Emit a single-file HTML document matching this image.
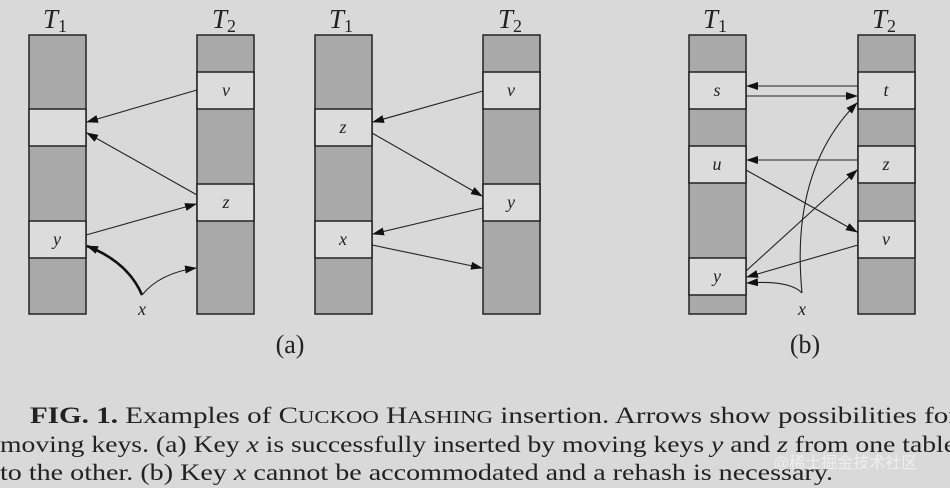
<!DOCTYPE html>
<html><head><meta charset="utf-8"><style>
html,body{margin:0;padding:0;background:#d9d9d9;}
svg{display:block}
.d{fill:#a9a9a9;stroke:#222;stroke-width:1.5}
.l{fill:#dcdcdc;stroke:#222;stroke-width:1.5}
.t{font-family:"Liberation Serif",serif;font-style:italic;fill:#222}
.a{stroke:#222;stroke-width:1.1;fill:none;marker-end:url(#ah)}
.cap{font-family:"Liberation Serif",serif;font-size:23px;fill:#222}
</style></head><body>
<svg width="950" height="488" viewBox="0 0 950 488" xmlns="http://www.w3.org/2000/svg">
<defs><marker id="ah" markerWidth="12" markerHeight="8" refX="11" refY="4" orient="auto" markerUnits="userSpaceOnUse"><path d="M0,0 L12,4 L0,8 Z" fill="#111"/></marker></defs>
<rect width="950" height="488" fill="#d9d9d9"/>
<g>
<rect class="d" x="29" y="35" width="57" height="279"/>
<rect class="l" x="29" y="109" width="57" height="37"/>
<rect class="l" x="29" y="221" width="57" height="37"/>
<rect class="d" x="197" y="35" width="57" height="279"/>
<rect class="l" x="197" y="72" width="57" height="37"/>
<rect class="l" x="197" y="184" width="57" height="37"/>
</g>
<g>
<rect class="d" x="315" y="35" width="57" height="279"/>
<rect class="l" x="315" y="109" width="57" height="37"/>
<rect class="l" x="315" y="221" width="57" height="37"/>
<rect class="d" x="483" y="35" width="57" height="279"/>
<rect class="l" x="483" y="72" width="57" height="37"/>
<rect class="l" x="483" y="184" width="57" height="37"/>
</g>
<g>
<rect class="d" x="689" y="35" width="57" height="279"/>
<rect class="l" x="689" y="72" width="57" height="37"/>
<rect class="l" x="689" y="146" width="57" height="37"/>
<rect class="l" x="689" y="258" width="57" height="37"/>
<rect class="d" x="858" y="35" width="57" height="279"/>
<rect class="l" x="858" y="72" width="57" height="37"/>
<rect class="l" x="858" y="146" width="57" height="37"/>
<rect class="l" x="858" y="221" width="57" height="37"/>
</g>
<g class="t" font-size="27">
<text x="43" y="28">T<tspan font-size="18" font-style="normal" dy="4">1</tspan></text>
<text x="212" y="28">T<tspan font-size="18" font-style="normal" dy="4">2</tspan></text>
<text x="329" y="28">T<tspan font-size="18" font-style="normal" dy="4">1</tspan></text>
<text x="498" y="28">T<tspan font-size="18" font-style="normal" dy="4">2</tspan></text>
<text x="703" y="28">T<tspan font-size="18" font-style="normal" dy="4">1</tspan></text>
<text x="872" y="28">T<tspan font-size="18" font-style="normal" dy="4">2</tspan></text>
</g>
<g class="t" font-size="18" text-anchor="middle">
<text x="226" y="96">v</text><text x="226" y="208">z</text><text x="57" y="245">y</text><text x="142" y="315">x</text>
<text x="343" y="133">z</text><text x="343" y="245">x</text><text x="511" y="96">v</text><text x="511" y="208">y</text>
<text x="717" y="96">s</text><text x="717" y="170">u</text><text x="717" y="282">y</text>
<text x="886" y="96">t</text><text x="886" y="170">z</text><text x="886" y="245">v</text><text x="802" y="315">x</text>
</g>
<path class="a" d="M197,90 L87,122"/>
<path class="a" d="M197,195 L87,133"/>
<path class="a" d="M86,235 L196,204"/>
<path d="M142,295 Q128,262 87,246" stroke="#111" stroke-width="2.6" fill="none" marker-end="url(#ah)"/>
<path class="a" d="M142,295 Q160,273 196,268"/>
<path class="a" d="M483,91 L373,122"/>
<path class="a" d="M372,133 L482,196"/>
<path class="a" d="M483,208 L373,234"/>
<path class="a" d="M372,245 L482,268"/>
<path class="a" d="M858,86 L747,86"/>
<path class="a" d="M746,96 L857,96"/>
<path class="a" d="M802,293 Q790,170 857,103"/>
<path class="a" d="M858,160 L747,160"/>
<path class="a" d="M746,170 L857,232"/>
<path class="a" d="M746,271 L857,170"/>
<path class="a" d="M858,245 L747,277"/>
<path class="a" d="M802,293 Q790,280 747,283"/>
<text x="290" y="353" text-anchor="middle" font-family="Liberation Serif,serif" font-size="26" fill="#222">(a)</text>
<text x="805" y="353" text-anchor="middle" font-family="Liberation Serif,serif" font-size="26" fill="#222">(b)</text>
<text class="cap" x="30" y="423" textLength="928" lengthAdjust="spacingAndGlyphs"><tspan font-weight="bold">FIG. 1.</tspan>  Examples of C<tspan font-size="18">UCKOO</tspan> H<tspan font-size="18">ASHING</tspan> insertion.  Arrows show possibilities for</text>
<text class="cap" x="0" y="452" textLength="956" lengthAdjust="spacingAndGlyphs">moving keys. (a) Key <tspan font-style="italic">x</tspan> is successfully inserted by moving keys <tspan font-style="italic">y</tspan> and <tspan font-style="italic">z</tspan> from one table</text>
<text class="cap" x="0" y="480" textLength="833" lengthAdjust="spacingAndGlyphs">to the other. (b) Key <tspan font-style="italic">x</tspan> cannot be accommodated and a rehash is necessary.</text>
<text x="773" y="468" font-family="Liberation Sans,Noto Sans CJK SC,sans-serif" font-size="16" fill="#f4f4f4" opacity="0.8">@稀土掘金技术社区</text>
</svg>
</body></html>
